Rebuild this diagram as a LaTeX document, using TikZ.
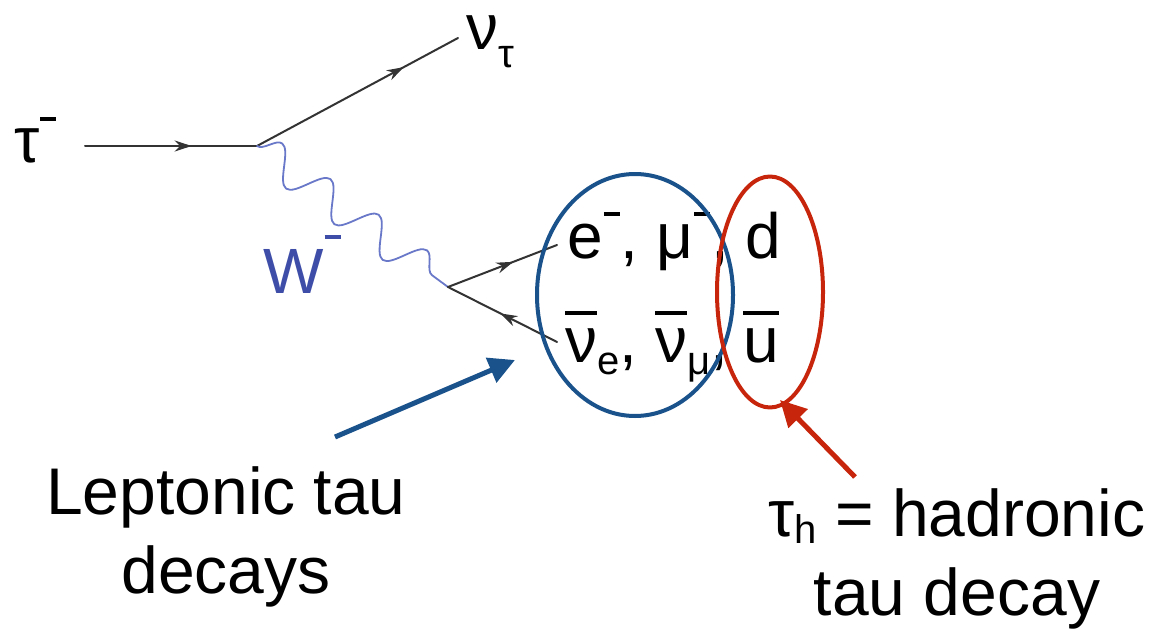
\documentclass[tikz,border=0pt]{standalone}
\usepackage{fontspec}
\setmainfont{Liberation Sans}
\usetikzlibrary{arrows.meta,shapes.geometric,decorations.pathmorphing,decorations.markings}

\definecolor{lepblue}{RGB}{26,82,140}
\definecolor{hadred}{RGB}{200,38,12}
\definecolor{wblue}{RGB}{62,78,168}
\definecolor{wline}{RGB}{105,120,200}

\newcommand{\minus}[1][0.66em]{\hspace{1pt}\raisebox{#1}{\rule{16pt}{4pt}}\hspace{1pt}}
\newcommand{\lowidx}[2][-0.2em]{\raisebox{#1}{\fontsize{40}{40}\selectfont #2}}
\newcommand{\antibar}[1]{\leavevmode\setbox0\hbox{#1}\rlap{\raisebox{0.74em}{\rule{\wd0}{3.5pt}}}\box0}

\begin{document}
\begin{tikzpicture}[x=1pt, y=-1pt, >=stealth, line join=round, line cap=round,
  lbl/.style={font=\fontsize{64}{70}\selectfont, inner sep=0pt, anchor=base west},
  caption/.style={font=\fontsize{66}{79}\selectfont, inner sep=0pt, align=center, anchor=base},
  fermion/.style={draw=black!80, line width=2pt, postaction={decorate},
    decoration={markings, mark=at position #1 with {\arrow{Stealth[length=17pt,width=11pt]}}}},
  fermion/.default=0.55,
  boson/.style={draw=wline, line width=1.8pt, decorate,
    decoration={snake, segment length=60pt, amplitude=17pt}},
  ring/.style={draw=#1, line width=4pt, ellipse, inner sep=0pt},
  pointer/.style={draw=#1, line width=5pt, line cap=butt, -{Triangle[length=26pt,width=26pt]}}]
  \useasboundingbox (0,0) rectangle (1164,631);

  \coordinate (tauin) at (85,146);
  \coordinate (v1) at (257,146);
  \coordinate (nuend) at (458,38);
  \coordinate (v2) at (448,287);
  \coordinate (lepend) at (557,245);
  \coordinate (nubarend) at (557,342);

  \draw[fermion=0.62] (tauin) -- (v1);
  \draw[fermion=0.73] (v1) -- (nuend);
  \draw[boson] (v1) -- (v2);
  \draw[fermion=0.6] (v2) -- (lepend);
  \draw[fermion=0.52] (nubarend) -- (v2);

  \node[lbl] (taulbl) at (14,163) {τ\minus};
  \node[lbl] (nulbl) at (466,50) {ν\lowidx[-0.27em]{τ}};
  \node[lbl, text=wblue] (wlbl) at (263,293) {W\minus[0.84em]};
  \node[lbl] (lepup) at (567,258) {e\minus, μ\minus,};
  \node[lbl] (quarkup) at (745,258) {d};
  \node[lbl] (lepdown) at (565,362) {\antibar{ν}\lowidx{e}, \antibar{ν}\lowidx{μ},};
  \node[lbl] (quarkdown) at (743,362) {\antibar{u}};

  \node[ring=lepblue, minimum width=196pt, minimum height=242pt] (lepring) at (635,295) {};
  \node[ring=hadred, minimum width=106pt, minimum height=231pt] (hadring) at (770,292) {};

  \coordinate (leptail) at (335,437);
  \coordinate (leptip) at (515,360);
  \coordinate (hadtail) at (855,477);
  \coordinate (hadtip) at (780,400);
  \draw[pointer=lepblue] (leptail) -- (leptip);
  \draw[pointer=hadred] (hadtail) -- (hadtip);

  \node[caption] (leptext) at (226,593) {Leptonic tau\\decays};
  \node[caption] (hadtext) at (957,615) {τ\lowidx[-0.12em]{h} = hadronic\\tau decay};
\end{tikzpicture}
\end{document}
